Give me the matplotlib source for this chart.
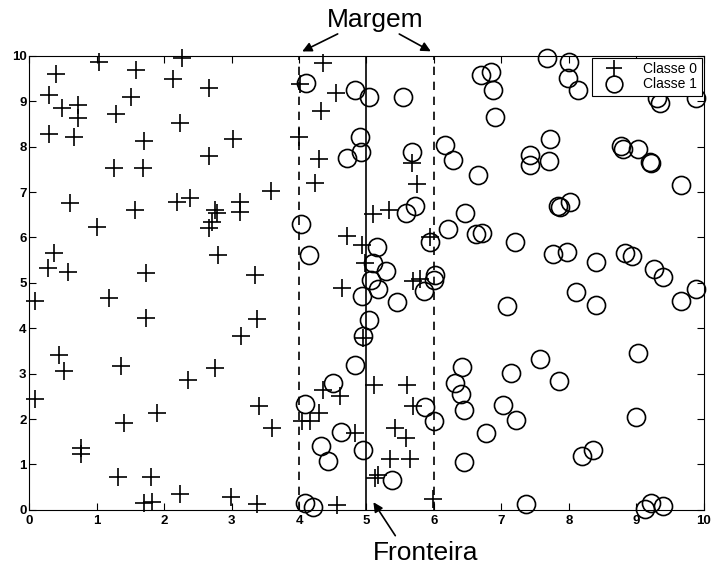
import matplotlib.pyplot as plt
import numpy as np

# Classe 0 (+)
x0 = [0.40, 0.30, 0.49, 0.72, 0.73, 0.30, 0.67, 1.03, 1.59, 1.51, 1.28, 1.70, 1.26, 1.69,
      2.26, 2.13, 2.24, 2.66, 2.67, 3.02, 0.61, 2.19, 2.38, 3.13, 3.13, 1.57, 2.76, 2.78,
      2.71, 2.66, 1.00, 0.37, 0.28, 0.57, 1.73, 1.19, 0.09, 2.80, 3.35, 1.73, 3.37, 3.14,
      0.44, 1.36, 2.76, 0.52, 2.36, 0.09, 1.40, 1.90, 0.77, 0.77, 1.32, 1.81, 1.70, 1.82,
      2.24, 2.99, 3.38, 3.41, 3.60, 3.59, 4.00,
      4.35, 4.01, 4.55, 4.33, 4.30, 4.23, 5.67, 5.75, 5.33, 5.10, 4.71, 4.93, 4.98, 4.63,
      5.94, 5.69, 5.79, 4.95, 4.05, 4.16, 4.29, 4.36, 4.61, 4.83, 4.56, 5.11, 5.60, 5.69,
      5.42, 5.59, 5.35, 5.64, 5.17, 5.13, 5.99]
y0 = [9.60, 9.14, 8.85, 8.92, 8.63, 8.28, 8.21, 9.87, 9.69, 9.09, 8.72, 8.13, 7.54, 7.54,
      9.95, 9.49, 8.52, 9.29, 7.80, 8.17, 6.76, 6.79, 6.86, 6.79, 6.57, 6.61, 6.61, 6.53,
      6.35, 6.20, 6.24, 5.65, 5.32, 5.23, 5.21, 4.66, 4.59, 5.62, 5.18, 4.22, 4.21, 3.82,
      3.41, 3.17, 3.12, 3.06, 2.86, 2.44, 1.91, 2.13, 1.36, 1.23, 0.73, 0.73, 0.15, 0.18,
      0.35, 0.28, 0.13, 2.28, 1.81, 7.03, 8.22,
      9.85, 9.38, 9.19, 8.79, 7.72, 7.21, 7.64, 7.18, 6.60, 6.52, 6.04, 5.84, 5.43, 4.88,
      6.02, 5.05, 5.08, 3.78, 1.95, 1.95, 2.14, 2.63, 2.51, 1.70, 0.11, 2.75, 2.75, 2.28,
      1.81, 1.58, 1.12, 1.12, 0.77, 0.70, 0.24]

# Classe 1 (o)
x1 = [4.11, 4.83, 5.03, 5.54, 4.90, 4.92, 4.71, 5.67, 6.16, 6.29, 6.66, 6.70, 6.85, 6.88,
      6.90, 7.67, 8.00, 7.99, 8.14, 7.72, 7.42, 7.42, 7.71, 8.77, 8.80, 9.03, 9.20, 9.22,
      9.30, 9.35, 9.89, 9.67, 7.84, 7.87, 8.01, 5.72, 6.46, 6.71, 7.20, 7.77, 7.97, 8.41,
      8.83, 8.94, 9.26, 9.39, 9.89, 9.66, 8.10, 8.41, 7.08, 9.03, 7.57, 7.15, 7.85, 7.03,
      7.22, 6.77, 9.00, 8.19, 8.36, 7.36, 9.13, 9.22, 9.39, 4.83, 4.50, 4.09, 4.62, 4.33,
      4.43, 4.95, 5.38, 4.09, 4.21, 5.87, 6.00, 6.41, 6.31, 6.40, 6.44, 6.44, 4.03, 4.15,
      5.59, 6.21, 6.63, 5.94, 5.16, 5.09, 5.29, 5.06, 5.17, 4.93, 5.45, 6.01, 6.00, 5.85,
      5.03, 4.95]
y1 = [9.40, 9.24, 9.09, 9.09, 8.22, 7.89, 7.75, 7.89, 8.04, 7.71, 7.38, 9.57, 9.65, 9.25,
      8.66, 9.95, 9.87, 9.51, 9.25, 8.16, 7.82, 7.60, 7.69, 8.02, 7.95, 7.94, 7.67, 7.64,
      9.07, 8.96, 9.07, 7.16, 6.70, 6.66, 6.77, 6.70, 6.53, 6.09, 5.89, 5.64, 5.67, 5.45,
      5.65, 5.59, 5.30, 5.13, 4.86, 4.59, 4.79, 4.52, 4.49, 3.45, 3.32, 3.02, 2.83, 2.31,
      1.97, 1.69, 2.04, 1.19, 1.31, 0.13, 0.02, 0.16, 0.09, 3.19, 2.79, 2.33, 1.72, 1.41,
      1.08, 1.31, 0.66, 0.16, 0.07, 2.26, 1.95, 3.14, 2.80, 2.56, 2.20, 1.05, 6.30, 5.62,
      6.53, 6.19, 6.07, 5.91, 5.80, 5.43, 5.26, 5.07, 4.86, 4.71, 4.57, 5.18, 5.07, 4.81,
      4.19, 3.82]

ticks = list(range(11))
fronteira = 5
margens = [4, 6]

plt.rcParams['font.family'] = ['Liberation Sans', 'DejaVu Sans']

fig = plt.figure(figsize=(7.13, 5.64), dpi=100)
ax = fig.add_axes([0.041, 0.096, 0.946, 0.805])

ax.plot(x0, y0, '+', color='black', markersize=13, markeredgewidth=1.2,
        label='Classe 0', clip_on=False)
ax.plot(x1, y1, 'o', color='black', markerfacecolor='none', markersize=13,
        markeredgewidth=1.2, label='Classe 1', clip_on=False)

ax.axvline(fronteira, color='black', linewidth=1.2)
for m in margens:
    ax.axvline(m, color='black', linestyle='--', linewidth=1.2, dashes=(5, 4))

ax.set_xlim(0, 10)
ax.set_ylim(0, 10)
ax.set_xticks(ticks)
ax.set_yticks(ticks)
ax.tick_params(direction='in', length=5, top=True, right=True, labelsize=9.5, pad=4)
for lbl in ax.get_xticklabels() + ax.get_yticklabels():
    lbl.set_fontweight('bold')
ax.tick_params(axis='y', pad=2)

# anotacoes
ax.text(5.13, 10.79, 'Margem', fontsize=19, ha='center', va='center', clip_on=False)
ax.annotate('', xy=(4.01, 10.07), xytext=(4.61, 10.51), annotation_clip=False,
            arrowprops=dict(arrowstyle='-|>', color='black', lw=1.2, mutation_scale=14))
ax.annotate('', xy=(5.99, 10.07), xytext=(5.45, 10.51), annotation_clip=False,
            arrowprops=dict(arrowstyle='-|>', color='black', lw=1.2, mutation_scale=14))
ax.text(5.88, -0.94, 'Fronteira', fontsize=19, ha='center', va='center', clip_on=False)
ax.annotate('', xy=(5.08, 0.22), xytext=(5.45, -0.62), annotation_clip=False,
            arrowprops=dict(arrowstyle='-|>', color='black', lw=1.2, mutation_scale=14))

leg = ax.legend(loc='upper right', fontsize=10, fancybox=False, edgecolor='black',
                framealpha=1, borderaxespad=0.15, handlelength=2.6, handletextpad=0.8,
                borderpad=0.3, labelspacing=0.1)
leg.get_frame().set_linewidth(0.8)
for h in leg.legend_handles:
    h.set_markersize(12)

fig.savefig('out.png', dpi=100)
